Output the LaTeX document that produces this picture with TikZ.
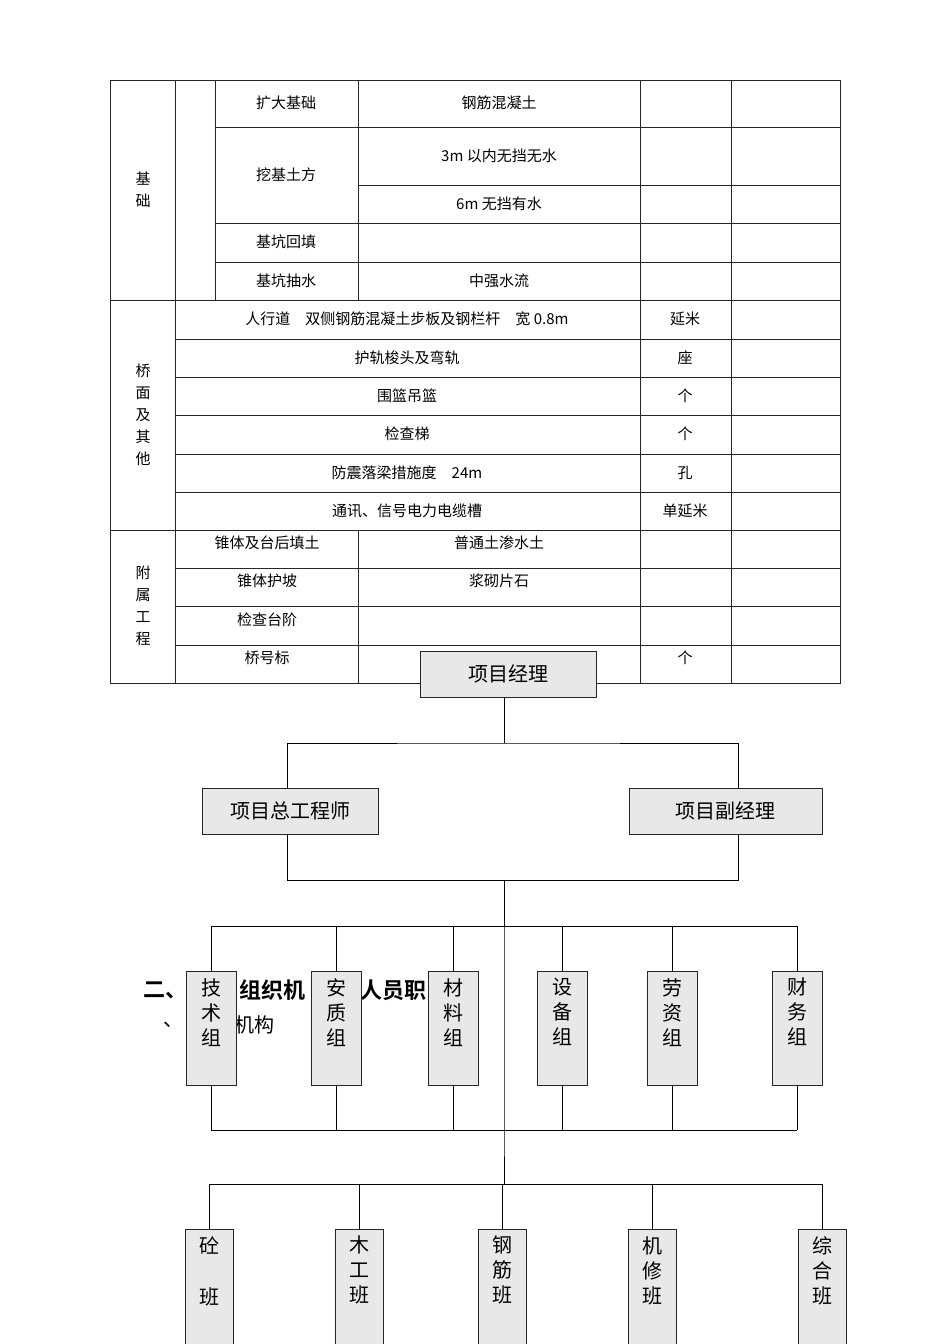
\documentclass[tikz,border=0pt]{standalone}
\usepackage{fontspec}
\setmainfont{Noto Sans CJK SC}
\newfontfamily\cjkb{Noto Sans CJK SC}[BoldFont=* Bold]
\begin{document}
\begin{tikzpicture}[x=1pt,y=-1pt,
  tl/.style={line width=0.8pt,draw=black!85},
  tt/.style={font=\fontsize{15}{18}\selectfont,inner sep=0pt},
  box/.style={draw=black!85,line width=1pt,fill=black!9,inner sep=0pt},
  bt/.style={font=\fontsize{20}{24}\selectfont},
  vt/.style={font=\fontsize{20}{25}\selectfont,align=center,inner sep=0pt,anchor=north},
  ln/.style={line width=0.9pt}]
\useasboundingbox (0,0) rectangle (950,1344);
% table
\draw[tl] (110,80) rectangle (840,683);
\foreach \x in {175,640,731} \draw[tl] (\x,80) -- (\x,683);
\draw[tl] (215,80) -- (215,300);
\draw[tl] (358,80) -- (358,300);
\draw[tl] (358,530) -- (358,683);
\draw[tl] (215,127) -- (840,127);
\draw[tl] (358,185) -- (840,185);
\foreach \y in {223,262} \draw[tl] (215,\y) -- (840,\y);
\draw[tl] (110,300) -- (840,300);
\foreach \y in {339,377,415,454,492} \draw[tl] (175,\y) -- (840,\y);
\draw[tl] (110,530) -- (840,530);
\foreach \y in {568,606,645} \draw[tl] (175,\y) -- (840,\y);
\node[tt,align=center] (s1) at (143,190) {基\\[4pt]础};
\node[tt,align=center] (s2) at (143,415) {桥\\[4pt]面\\[4pt]及\\[4pt]其\\[4pt]他};
\node[tt,align=center] (s3) at (143,606) {附\\[4pt]属\\[4pt]工\\[4pt]程};
\node[tt] (a1) at (286,103) {扩大基础};
\node[tt] (a2) at (499,103) {钢筋混凝土};
\node[tt] (a3) at (286,175) {挖基土方};
\node[tt] (a4) at (499,156) {3m 以内无挡无水};
\node[tt] (a5) at (499,204) {6m 无挡有水};
\node[tt] (a6) at (286,242) {基坑回填};
\node[tt] (a7) at (286,281) {基坑抽水};
\node[tt] (a8) at (499,281) {中强水流};
\node[tt] (b1) at (407,319) {人行道\quad 双侧钢筋混凝土步板及钢栏杆\quad 宽 0.8m};
\node[tt] (b1u) at (685,319) {延米};
\node[tt] (b2) at (407,358) {护轨梭头及弯轨};
\node[tt] (b2u) at (685,358) {座};
\node[tt] (b3) at (407,396) {围篮吊篮};
\node[tt] (b3u) at (685,396) {个};
\node[tt] (b4) at (407,434) {检查梯};
\node[tt] (b4u) at (685,434) {个};
\node[tt] (b5) at (407,473) {防震落梁措施度\quad 24m};
\node[tt] (b5u) at (685,473) {孔};
\node[tt] (b6) at (407,511) {通讯、信号电力电缆槽};
\node[tt] (b6u) at (685,511) {单延米};
\node[tt] (c1) at (267,543) {锥体及台后填土};
\node[tt] (c1b) at (499,543) {普通土渗水土};
\node[tt] (c2) at (267,581) {锥体护坡};
\node[tt] (c2b) at (499,581) {浆砌片石};
\node[tt] (c3) at (267,620) {检查台阶};
\node[tt] (c4) at (267,658) {桥号标};
\node[tt] (c4u) at (685,658) {个};
% heading fragments
\node[font=\cjkb\bfseries\fontsize{22}{26}\selectfont,anchor=west,inner sep=0pt] (h1) at (143,990) {二、};
\node[font=\cjkb\bfseries\fontsize{22}{26}\selectfont,anchor=west,inner sep=0pt] (h2) at (239,990) {组织机};
\node[font=\cjkb\bfseries\fontsize{22}{26}\selectfont,anchor=west,inner sep=0pt] (h3) at (360,990) {人员职};
\node[font=\fontsize{20}{24}\selectfont,anchor=west,inner sep=0pt] (h4) at (163,1025) {、};
\node[font=\fontsize{20}{24}\selectfont,anchor=west,inner sep=0pt] (h5) at (234,1025) {机构};
% org chart
\node[box,minimum width=176pt,minimum height=46pt,bt] (pm) at (508,674) {项目经理};
\node[box,minimum width=176pt,minimum height=46pt,bt] (ce) at (290,811) {项目总工程师};
\node[box,minimum width=193pt,minimum height=46pt,bt] (dp) at (725.5,811) {项目副经理};
\coordinate (j1) at (504,743);
\coordinate (j2) at (504,880);
\coordinate (j3) at (504,926);
\coordinate (j4) at (504,1130);
\coordinate (j5) at (504,1184);
\draw[ln] (504,697) -- (j1);
\draw[ln] (287,788) |- (j1) -| (738,788);
\draw[ln] (287,834) |- (j2) -| (738,834);
\draw[ln] (j2) -- (j3);
\draw[ln] (211,926) -- (797,926);
\draw[ln] (211,1130) -- (797,1130);
\draw[ln] (j3) -- (j4) -- (j5);
\draw[ln] (209,1184) -- (822,1184);
\foreach \n/\x/\t in {g1/211/技\\术\\组, g2/336/安\\质\\组, g3/453.5/材\\料\\组, g4/562/设\\备\\组, g5/672/劳\\资\\组, g6/797/财\\务\\组}{
  \draw[ln] (\x,926) -- (\x,1130);
  \node[box,minimum width=50pt,minimum height=114pt] (\n) at (\x,1028) {};
  \node[vt] at (\x,978) {\t};
}
\foreach \n/\x/\t in {t1/209/砼\\[26pt]班, t2/359/木\\工\\班, t3/502/钢\\筋\\班, t4/652/机\\修\\班, t5/822/综\\合\\班}{
  \draw[ln] (\x,1184) -- (\x,1229);
  \draw[box] (\x-24,1350) |- (\x+24,1229) -- (\x+24,1350);
  \node[vt] (\n) at (\x,1236) {\t};
}
\end{tikzpicture}
\end{document}
